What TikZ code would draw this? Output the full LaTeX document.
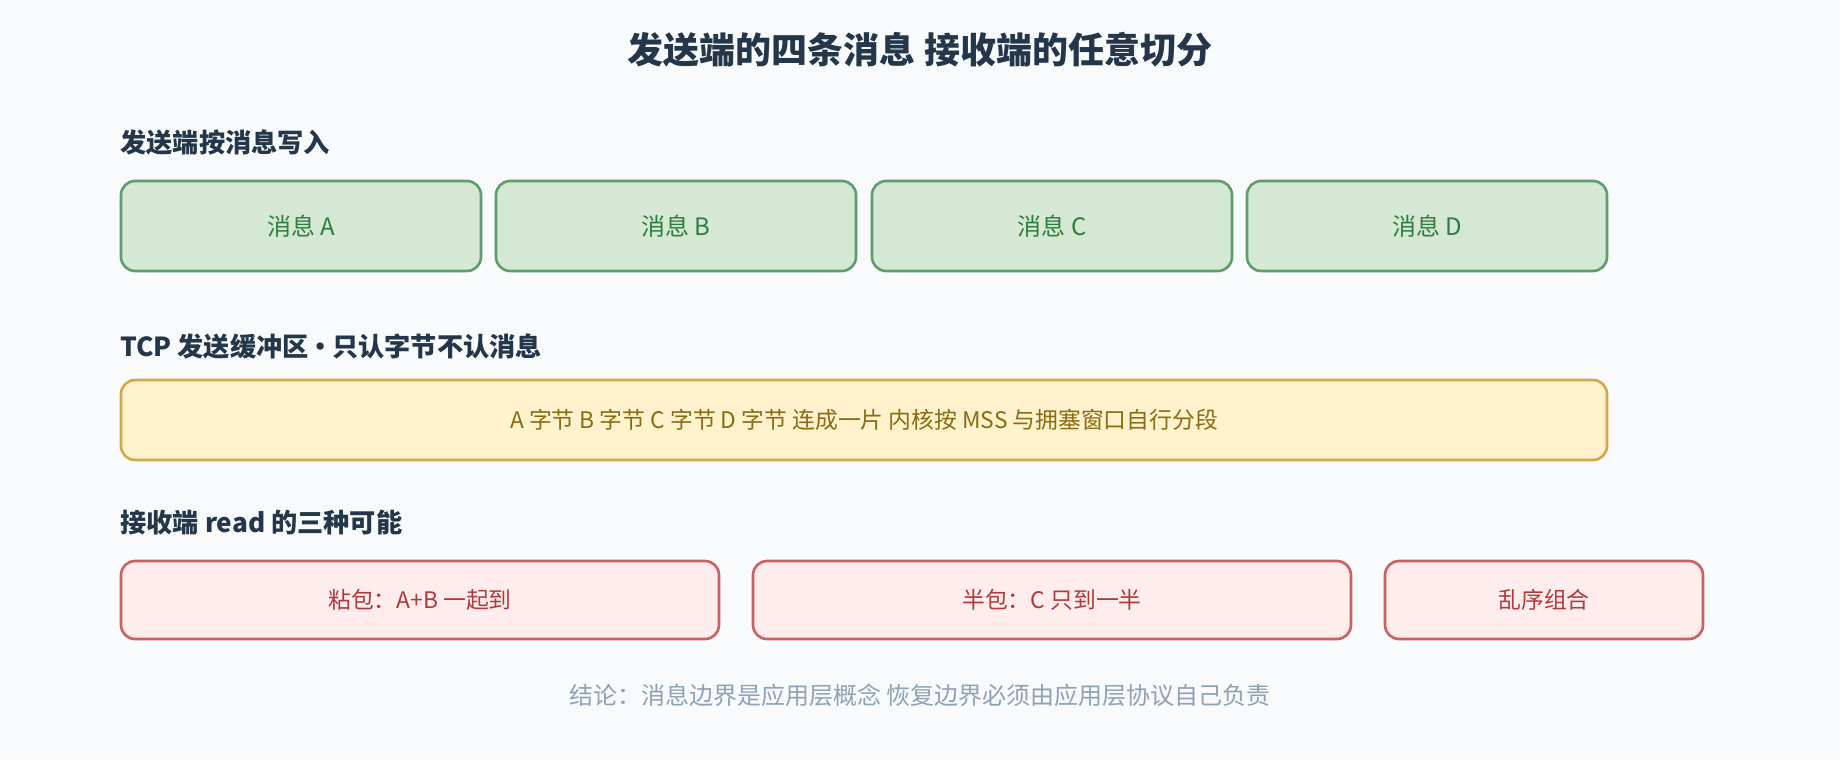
\documentclass[tikz,border=0pt]{standalone}
\usepackage{fontspec}
\setmainfont{Noto Sans CJK SC}
\usetikzlibrary{positioning}
\definecolor{bgpage}{HTML}{F8FAFC}
\definecolor{inkdark}{HTML}{24364A}
\definecolor{grnfill}{HTML}{D5E8D4}
\definecolor{grnline}{HTML}{5C9E6C}
\definecolor{grntext}{HTML}{2E7D40}
\definecolor{ylwfill}{HTML}{FFF2CC}
\definecolor{ylwline}{HTML}{D6A64A}
\definecolor{ylwtext}{HTML}{8A6A12}
\definecolor{redfill}{HTML}{FFECEC}
\definecolor{redline}{HTML}{CC6060}
\definecolor{redtext}{HTML}{B03A3A}
\definecolor{notetext}{HTML}{8DA2B6}
\tikzset{
  seclabel/.style={anchor=west, inner sep=0pt, text=inkdark, font=\fontsize{13.1}{16}\selectfont\bfseries},
  msgbox/.style={draw=grnline, fill=grnfill, text=grntext, line width=1.3pt, rounded corners=7pt,
    minimum width=180pt, minimum height=45pt, inner sep=0pt, font=\fontsize{12}{14}\selectfont},
  bufbox/.style={draw=ylwline, fill=ylwfill, text=ylwtext, line width=1.3pt, rounded corners=7pt,
    minimum width=743pt, minimum height=40pt, inner sep=0pt, font=\fontsize{11.4}{14}\selectfont},
  readbox/.style={draw=redline, fill=redfill, text=redtext, line width=1.3pt, rounded corners=7pt,
    minimum height=39pt, inner sep=0pt, font=\fontsize{11.4}{14}\selectfont}
}
\begin{document}
\begin{tikzpicture}[x=0.5pt,y=-0.5pt]
		\fill[bgpage] (0,0) rectangle (1840,760);
		\useasboundingbox (0,0) rectangle (1840,760);
		
		\node[text=inkdark, font=\fontsize{18}{21}\selectfont\bfseries] (title) at (920,50) {发送端的四条消息 接收端的任意切分};
		
		% sender side
		\node[seclabel] (sendlbl) at (120,143) {发送端按消息写入};
		\node[msgbox] (msgA) at (301,226) {消息 A};
		\node[msgbox] (msgB) at (676,226) {消息 B};
		\node[msgbox] (msgC) at (1052,226) {消息 C};
		\node[msgbox] (msgD) at (1427,226) {消息 D};
		
		% send buffer
		\node[seclabel] (buflbl) at (120,347) {TCP 发送缓冲区\hspace{-0.05em}•\hspace{-0.05em}只认字节不认消息};
		\node[bufbox] (buf) at (864,420) {A 字节 B 字节 C 字节 D 字节 连成一片 内核按 MSS 与拥塞窗口自行分段};
		
		% receiver side
		\node[seclabel] (recvlbl) at (120,523) {接收端 read 的三种可能};
		\node[readbox, minimum width=299pt] (sticky) at (420,600) {粘包：A+B 一起到};
		\node[readbox, minimum width=299pt] (half) at (1052,600) {半包：C 只到一半};
		\node[readbox, minimum width=159pt] (mixed) at (1544,600) {乱序组合};
		
		\node[text=notetext, font=\fontsize{12}{14}\selectfont] (note) at (920,695) {结论：消息边界是应用层概念 恢复边界必须由应用层协议自己负责};
	\end{tikzpicture}
\end{document}
